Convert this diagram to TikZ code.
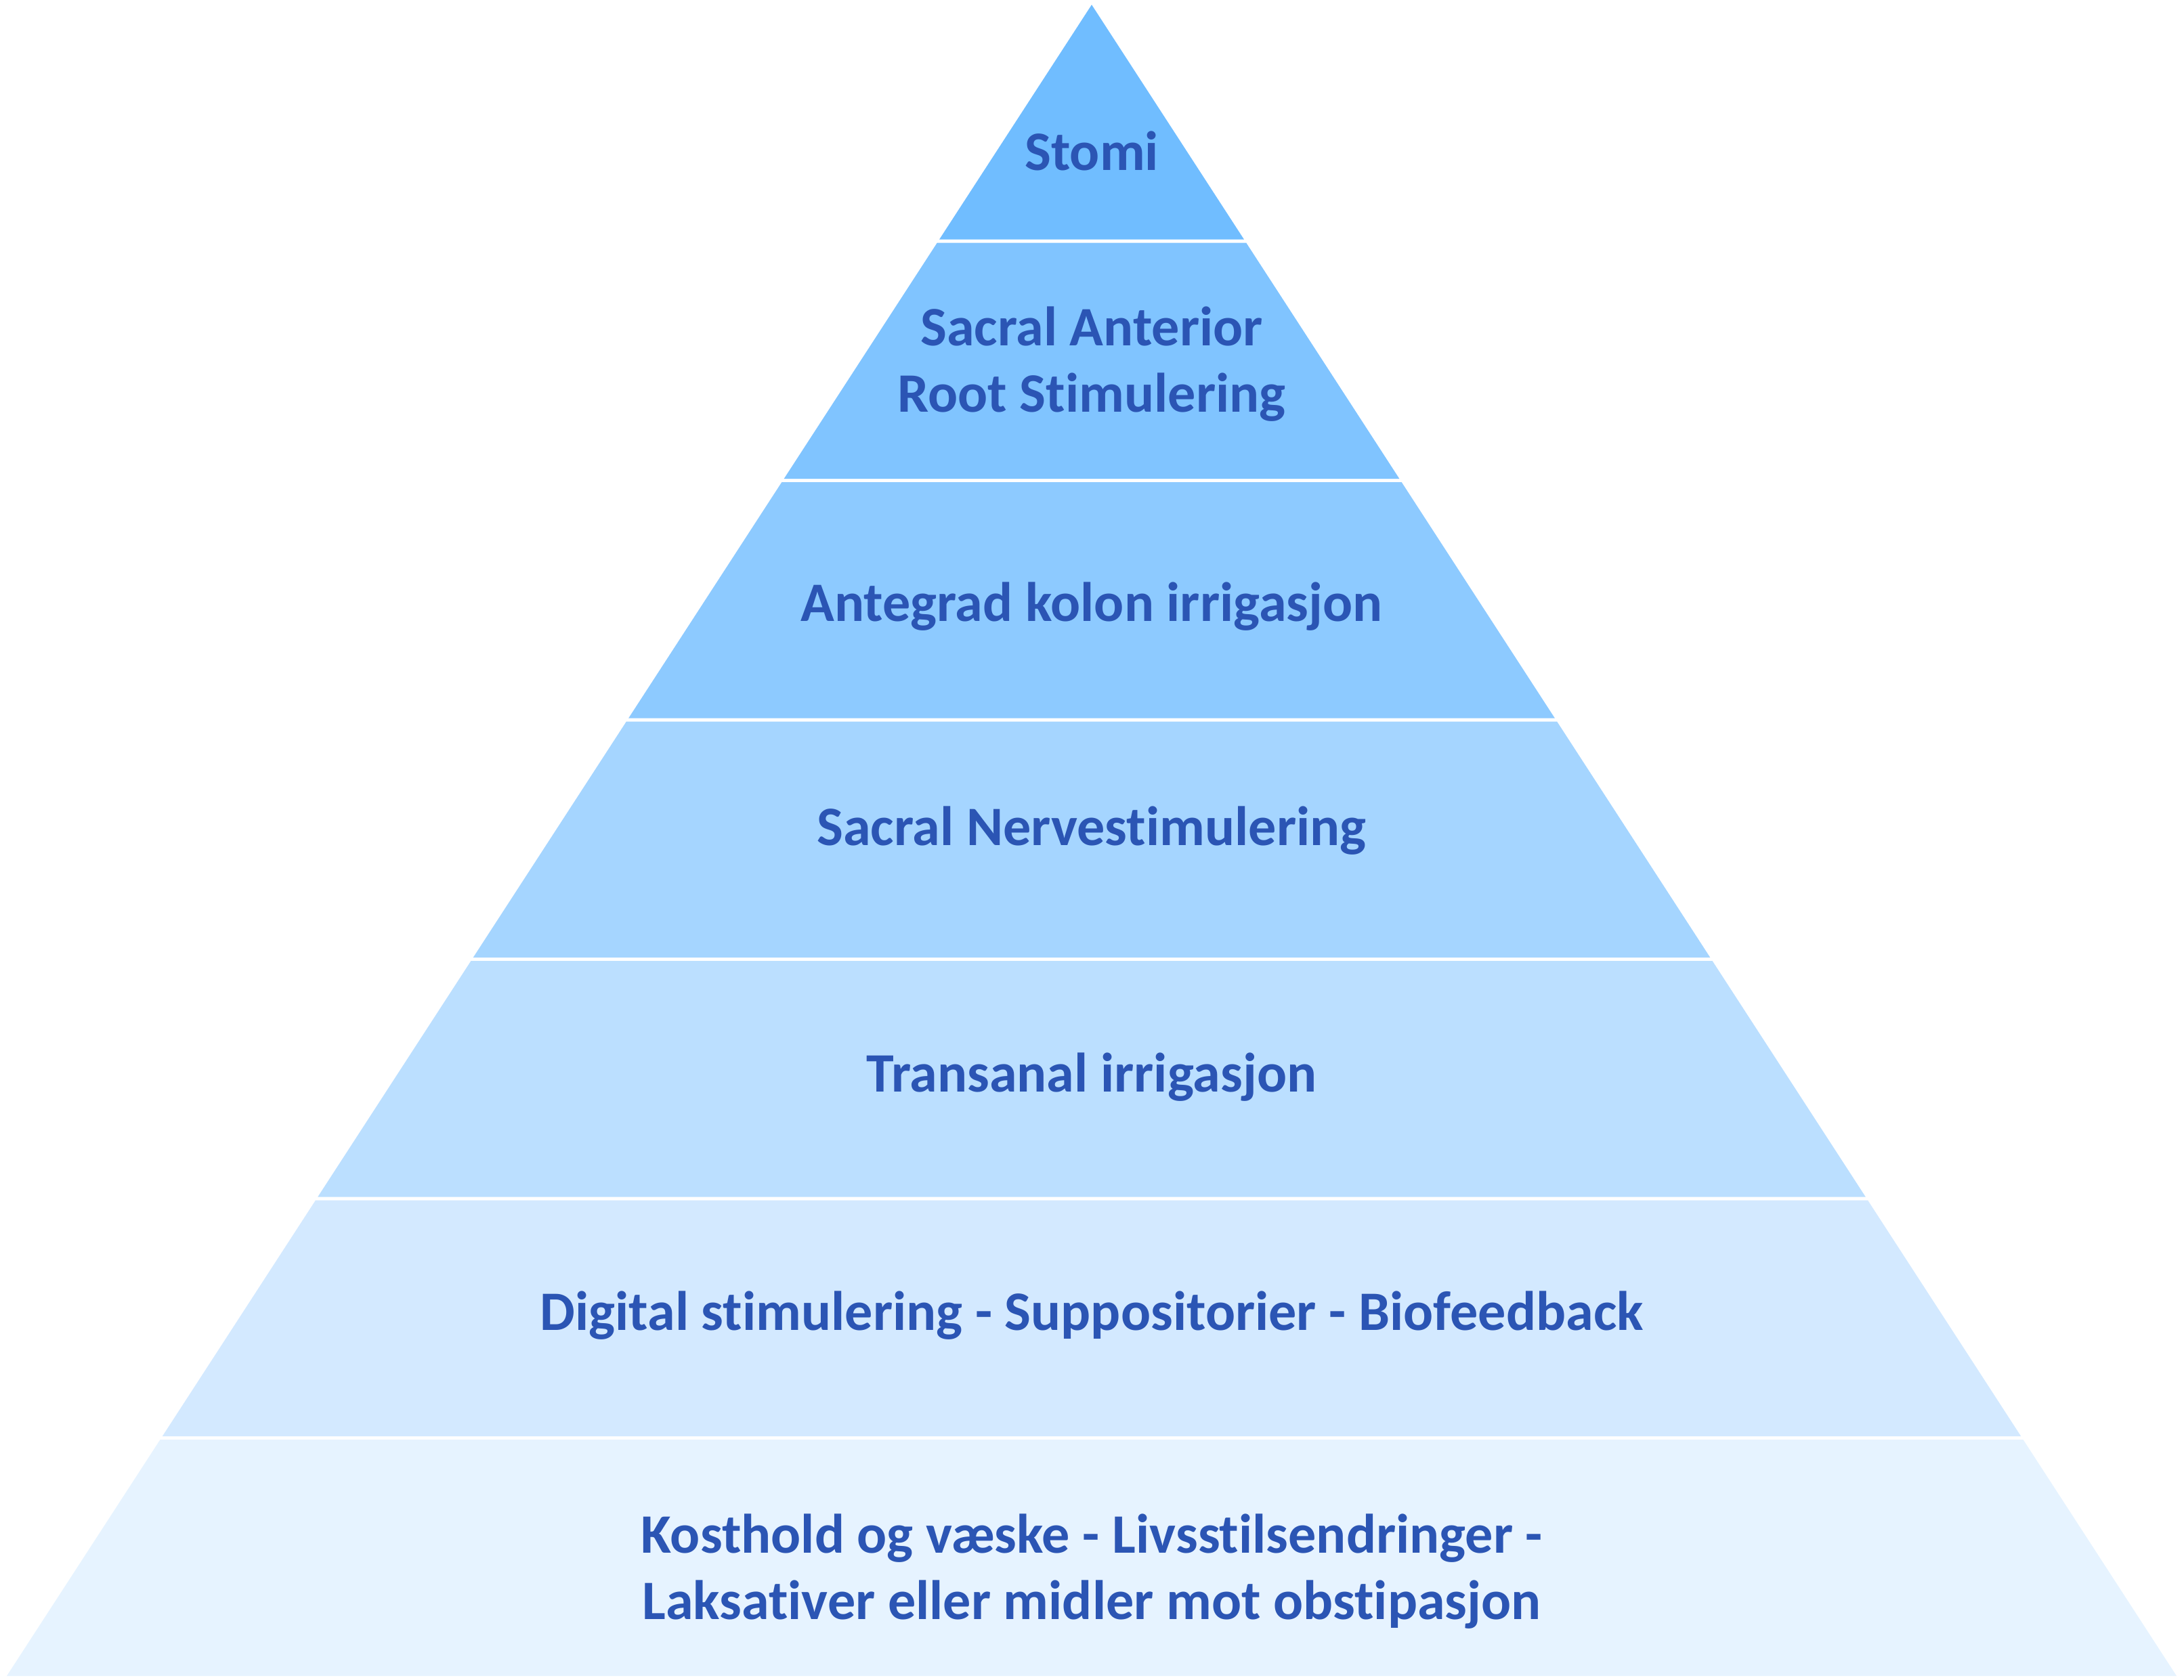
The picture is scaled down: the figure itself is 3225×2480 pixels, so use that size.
\documentclass[tikz,border=0pt]{standalone}
\usepackage{fontspec}
\setmainfont[Ligatures=NoCommon]{Carlito}
\definecolor{Lone}{RGB}{112,189,255}
\definecolor{Ltwo}{RGB}{128,196,255}
\definecolor{Lthree}{RGB}{141,202,255}
\definecolor{Lfour}{RGB}{165,213,255}
\definecolor{Lfive}{RGB}{187,223,255}
\definecolor{Lsix}{RGB}{211,233,255}
\definecolor{Lseven}{RGB}{230,243,255}
\definecolor{txt}{RGB}{43,85,180}
\begin{document}
\begin{tikzpicture}[x=0.01cm,y=-0.01cm,
  lbl/.style={anchor=base,align=center,text=txt,inner sep=0pt,
    font=\fontsize{23.37pt}{27.6pt}\selectfont\bfseries}]
\useasboundingbox (0,0) rectangle (3225,2480);
\fill[white] (0,0) rectangle (3225,2480);
\foreach \t/\b/\c in {7/353.5/Lone, 358.5/707/Ltwo, 712/1060.5/Lthree, 1065.5/1414/Lfour, 1419/1767.5/Lfive, 1772.5/2121/Lsix, 2126/2475/Lseven}{
  \pgfmathsetmacro\tl{1612-0.64911*(\t-7)}
  \pgfmathsetmacro\tr{1612+0.64911*(\t-7)}
  \pgfmathsetmacro\bl{1612-0.64911*(\b-7)}
  \pgfmathsetmacro\br{1612+0.64911*(\b-7)}
  \fill[\c] (\tl,\t) -- (\tr,\t) -- (\br,\b) -- (\bl,\b) -- cycle;
}
\node[lbl] (t1) at (1612,251) {Stomi};
\node[lbl] (t2) at (1612,608) {Sacral Anterior\\Root Stimulering};
\node[lbl] (t3) at (1612,917) {Antegrad kolon irrigasjon};
\node[lbl] (t4) at (1612,1248) {Sacral Nervestimulering};
\node[lbl] (t5) at (1612,1612) {Transanal irrigasjon};
\node[lbl] (t6) at (1612,1964) {Digital stimulering - Suppositorier - Biofeedback};
\node[lbl] (t7) at (1612,2391) {Kosthold og væske - Livsstilsendringer -\\Laksativer eller midler mot obstipasjon};
\end{tikzpicture}
\end{document}
